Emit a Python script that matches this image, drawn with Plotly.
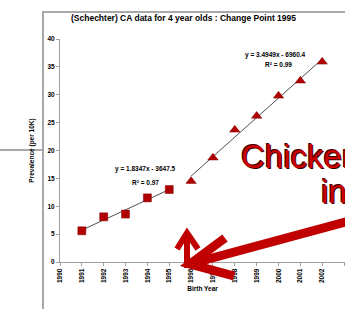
import numpy as np
import plotly.graph_objects as go

# ---- data ----
years_before = [1991, 1992, 1993, 1994, 1995]
prev_before = [5.6, 8.1, 8.6, 11.5, 13.0]
years_after = [1996, 1997, 1998, 1999, 2000, 2001, 2002]
prev_after = [14.5, 18.7, 23.7, 26.2, 29.8, 32.5, 35.9]
x_ticks = list(range(1990, 2004))
y_ticks = [0, 5, 10, 15, 20, 25, 30, 35, 40]
eq_before = ["y = 1.8347x - 3647.5", "R² = 0.97"]
eq_after = ["y = 3.4949x - 6960.4", "R² = 0.99"]
title_text = "(Schechter) CA data for 4 year olds : Change Point 1995"

W, H = 345, 309
L, R, T, B = 60, 345, 39, 262


def px(x):
    return (x - L) / (R - L)


def py(y):
    return (B - y) / (B - T)


RED = "#B00000"
fig = go.Figure()

# trendlines from least squares fits
for xs, ys in [(years_before, prev_before), (years_after, prev_after)]:
    c = np.polyfit(xs, ys, 1)
    xx = np.array([xs[0], xs[-1]], dtype=float)
    fig.add_trace(go.Scatter(x=xx, y=np.polyval(c, xx), mode="lines",
                             line=dict(color="#505050", width=1),
                             hoverinfo="skip", showlegend=False))

fig.add_trace(go.Scatter(x=years_before, y=prev_before, mode="markers",
                         marker=dict(symbol="square", size=8, color=RED,
                                     line=dict(color="#800000", width=0.5)),
                         showlegend=False))
fig.add_trace(go.Scatter(x=years_after, y=prev_after, mode="markers",
                         marker=dict(symbol="triangle-up", size=9, color=RED,
                                     line=dict(color="#800000", width=0.5)),
                         showlegend=False))

small = dict(family="Liberation Sans", size=6.5, color="black", weight="bold")

fig.update_layout(
    width=W, height=H,
    margin=dict(l=L, r=W - R, t=T, b=H - B),
    paper_bgcolor="white", plot_bgcolor="white",
    showlegend=False,
    xaxis=dict(range=[1990, 1990 + (R - L) / 21.85], tickmode="array",
               tickvals=x_ticks, ticktext=[str(v) for v in x_ticks],
               tickangle=-90, tickfont=small, showgrid=False, zeroline=False,
               showline=True, linecolor="#a0a0a0", linewidth=1,
               ticks="outside", ticklen=3, tickcolor="#a0a0a0",
               title=dict(text="Birth Year", font=small, standoff=4)),
    yaxis=dict(range=[0, 40], tickmode="array", tickvals=y_ticks,
               ticktext=[str(v) for v in y_ticks], tickfont=small,
               showgrid=False, zeroline=False, showline=True,
               linecolor="#a0a0a0", linewidth=1, ticks="outside", ticklen=3,
               tickcolor="#a0a0a0",
               title=dict(text="Prevalence (per 10K)", font=small, standoff=12)),
)


def note(text, x, y, font, xa="center"):
    return dict(text=text, x=px(x), y=py(y), xref="paper", yref="paper",
                xanchor=xa, yanchor="middle", showarrow=False, font=font)


ann = [
    note("<b>" + title_text + "</b>", 183, 18,
         dict(family="Liberation Sans", size=8.5, color="black")),
    note(eq_before[0], 145, 169, small),
    note(eq_before[1], 145, 182, small),
    note(eq_after[0], 275, 55, small),
    note(eq_after[1], 278, 64, small),
]
big = dict(family="Liberation Sans", size=33, color="#CC0000",
           shadow="-1px -1px 0px #3a0000, 1px 1px 0px #3a0000")
ann.append(note("Chicken", 239, 156, big, xa="left"))
ann.append(note("in", 319, 191, big, xa="left"))
fig.update_layout(annotations=ann)

shapes = []
gray = dict(color="#a8a8a8", width=2)
shapes.append(dict(type="line", xref="paper", yref="paper", x0=px(43), x1=px(43),
                   y0=py(11), y1=py(320), line=gray))
shapes.append(dict(type="line", xref="paper", yref="paper", x0=px(42), x1=px(360),
                   y0=py(12), y1=py(12), line=gray))
shapes.append(dict(type="line", xref="paper", yref="paper", x0=px(-5), x1=px(43),
                   y0=py(150), y1=py(150), line=gray))


def pth(pts):
    s = ""
    for i, (a, b) in enumerate(pts):
        s += ("M" if i == 0 else "L") + f" {px(a):.5f} {py(b):.5f} "
    return s


arrow_red = dict(color="#C00000", width=9)
shapes.append(dict(type="path", xref="paper", yref="paper",
                   path=pth([(360, 218), (190, 264)]), line=arrow_red))
shapes.append(dict(type="path", xref="paper", yref="paper",
                   path=pth([(225, 238), (190, 264), (234, 276)]), line=arrow_red))
shapes.append(dict(type="path", xref="paper", yref="paper",
                   path=pth([(187, 268), (187, 235)]),
                   line=dict(color="#C00000", width=6)))
shapes.append(dict(type="path", xref="paper", yref="paper",
                   path=pth([(177, 249), (187, 233), (198, 249)]),
                   line=dict(color="#C00000", width=6)))
fig.update_layout(shapes=shapes)

fig.write_html("out.html",
               config={"displayModeBar": False},
               post_script="document.body.style.margin='0';"
                           "document.body.style.overflow='hidden';")
